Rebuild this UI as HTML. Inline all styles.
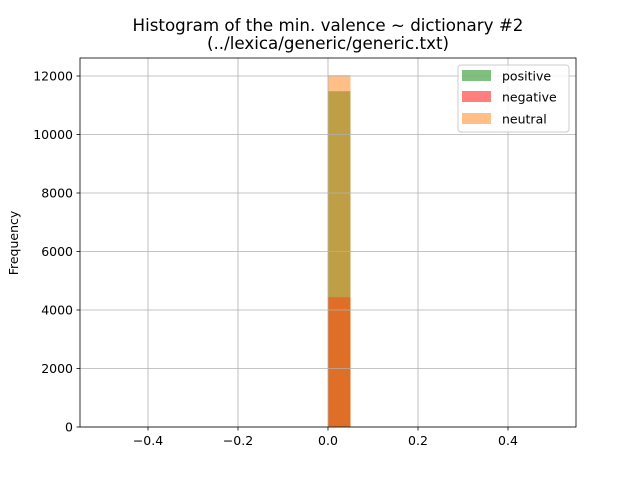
<!DOCTYPE html>
<html><head><meta charset="utf-8"><style>body{margin:0;background:#fff}svg{display:block;font-family:"DejaVu Sans","Liberation Sans",sans-serif}</style></head>
<body>
<svg id="c" width="640" height="480"></svg>
<script>
const binEdges=[0.0,0.05];
const seriesNames=["positive","negative","neutral"];
const positiveCounts=[11480];
const negativeCounts=[4440];
const neutralCounts=[12030];
const xTicks=[-0.4,-0.2,0.0,0.2,0.4];
const yTicks=[0,2000,4000,6000,8000,10000,12000];
const colors=["#008000","#ff0000","#ff7f0e"];
const L=80,R=576,T=58,B=427;
const xs=v=>328+v*450;
const ys=v=>B-v*351/12000;
const svg=document.getElementById('c');
const NS='http://www.w3.org/2000/svg';
function mk(t,a,p){const e=document.createElementNS(NS,t);for(const k in a)e.setAttribute(k,a[k]);(p||svg).appendChild(e);return e;}
const series=[positiveCounts,negativeCounts,neutralCounts];
series.forEach((arr,si)=>{arr.forEach((v,i)=>{
 const r=mk('rect',{x:xs(binEdges[i]),y:ys(v),width:xs(binEdges[i+1])-xs(binEdges[i]),height:B-ys(v),fill:colors[si],'fill-opacity':0.5});
 
 
});});
xTicks.forEach(t=>{
 const g=mk('line',{x1:xs(t),x2:xs(t),y1:T,y2:B,stroke:'#b0b0b0','stroke-width':0.8});
 
 
 mk('line',{x1:xs(t),x2:xs(t),y1:B,y2:B+3.5,stroke:'#000','stroke-width':0.8});
 const tx=mk('text',{x:xs(t),y:B+18,'text-anchor':'middle','font-size':12.5});
 tx.textContent=(t<0?'\u2212':'')+Math.abs(t).toFixed(1);
 
 
});
yTicks.forEach(t=>{
 const g=mk('line',{x1:L,x2:R,y1:ys(t),y2:ys(t),stroke:'#b0b0b0','stroke-width':0.8});
 
 
 mk('line',{x1:L-3.5,x2:L,y1:ys(t),y2:ys(t),stroke:'#000','stroke-width':0.8});
 const tx=mk('text',{x:L-7,y:ys(t)+4.5,'text-anchor':'end','font-size':12.5});
 tx.textContent=t;
 
 
});
const fr=mk('rect',{x:L,y:T,width:R-L,height:B-T,fill:'none',stroke:'#000','stroke-width':0.8});


</script>
<svg style="position:absolute;left:0;top:0" width="640" height="480">
<text x="328" y="31" text-anchor="middle" font-size="16.7">Histogram of the min. valence ~ dictionary #2</text>
<text x="328" y="49" text-anchor="middle" font-size="16.7">(../lexica/generic/generic.txt)</text>
<text transform="translate(18,243) rotate(-90)" text-anchor="middle" font-size="12.5">Frequency</text>
<g>
<rect x="458" y="65" width="111" height="67" rx="3" fill="#fff" fill-opacity="0.8" stroke="#ccc"/>
<rect x="462" y="70" width="29" height="11" fill="#008000" fill-opacity="0.5"/>
<text x="502" y="80.5" font-size="12.5">positive</text>
<rect x="462" y="91" width="29" height="11" fill="#ff0000" fill-opacity="0.5"/>
<text x="502" y="101.5" font-size="12.5">negative</text>
<rect x="462" y="113" width="29" height="11" fill="#ff7f0e" fill-opacity="0.5"/>
<text x="502" y="123.5" font-size="12.5">neutral</text>
</g>
</svg>
</body></html>
